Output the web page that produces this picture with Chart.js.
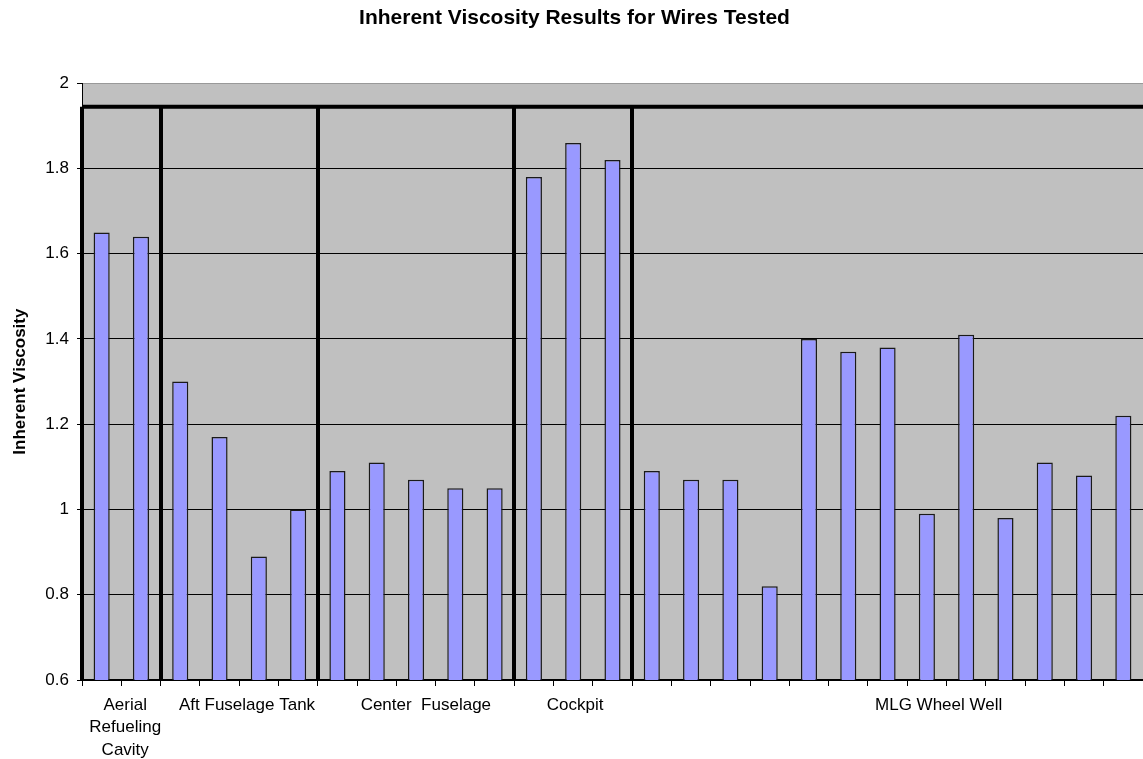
<!DOCTYPE html>
<html>
<head>
<meta charset="utf-8">
<title>Inherent Viscosity Results for Wires Tested</title>
<script src="https://cdn.jsdelivr.net/npm/chart.js@4/dist/chart.umd.min.js"></script>
<style>
  html, body { margin: 0; padding: 0; background: #fff; }
  #wrap { width: 1143px; height: 759px; position: relative; }
</style>
</head>
<body>
<div id="wrap"><canvas id="chart"></canvas></div>
<script>
// ---- Données ----
const groupes = ['Aerial\nRefueling\nCavity', 'Aft Fuselage Tank', 'Center  Fuselage', 'Cockpit', 'MLG Wheel Well']
const aerial = [1.65, 1.64]
const aftTank = [1.30, 1.17, 0.89, 1.00]
const centerFuselage = [1.09, 1.11, 1.07, 1.05, 1.05]
const cockpit = [1.78, 1.86, 1.82]
const mlgWheelWell = [1.09, 1.07, 1.07, 0.82, 1.40, 1.37, 1.38, 0.99, 1.41, 0.98, 1.11, 1.08, 1.22]
const yTicks = [0.6, 0.8, 1, 1.2, 1.4, 1.6, 1.8, 2]
const seuil = 1.945 // trait horizontal épais

const series = [aerial, aftTank, centerFuselage, cockpit, mlgWheelWell]
const labels = []
const valeurs = []
series.forEach((s, g) => {
  s.forEach((v, i) => {
    labels.push(groupes[g].replace(/\n/g, ' ') + ' ' + (i + 1))
    valeurs.push(v)
  })
})

// position des libellés de groupe (en unités de catégorie)
const posLibelles = [0.6, 3.7, 8.25, 12.05, 21.3]

// ---- Fond gris + séparateurs + libellés ----
const decor = {
  id: 'decor',
  beforeDraw(chart) {
    const { ctx, chartArea: a } = chart
    ctx.save()
    ctx.fillStyle = '#C0C0C0'
    ctx.fillRect(a.left, a.top, a.right - a.left, a.bottom - a.top)
    ctx.restore()
  },
  afterDraw(chart) {
    const { ctx, chartArea: a } = chart
    const x = chart.scales.x
    const y = chart.scales.y
    const yS = y.getPixelForValue(seuil)

    ctx.save()
    ctx.strokeStyle = '#000'
    ctx.lineWidth = 4
    ctx.beginPath()
    ctx.moveTo(a.left, yS)
    ctx.lineTo(a.right, yS)
    let debut = 0
    series.forEach(s => {
      const px = Math.round(x.getPixelForValue(debut - 0.5))
      ctx.moveTo(px, yS)
      ctx.lineTo(px, a.bottom)
      debut += s.length
    })
    ctx.stroke()

    ctx.fillStyle = '#000'
    ctx.font = '17px "Liberation Sans", Arial, sans-serif'
    ctx.textAlign = 'center'
    ctx.textBaseline = 'middle'
    groupes.forEach((g, i) => {
      const px = x.getPixelForValue(posLibelles[i])
      g.split('\n').forEach((ligne, k) => {
        ctx.fillText(ligne, px, a.bottom + 25 + k * 22.5)
      })
    })
    ctx.restore()
  }
}

new Chart(document.getElementById('chart'), {
  type: 'bar',
  data: {
    labels: labels,
    datasets: [{
      label: 'Inherent Viscosity',
      data: valeurs,
      backgroundColor: '#9999FF',
      borderColor: '#1a1a1a',
      borderWidth: 1.5,
      borderSkipped: false,
      barPercentage: 0.41,
      categoryPercentage: 1
    }]
  },
  options: {
    responsive: true,
    maintainAspectRatio: false,
    animation: false,
    layout: { padding: { left: 6, right: 0, top: 0, bottom: 0 } },
    plugins: {
      legend: { display: false },
      tooltip: { enabled: false },
      title: {
        display: true,
        text: 'Inherent Viscosity Results for Wires Tested',
        color: '#000',
        font: { family: '"Liberation Sans", Arial, sans-serif', size: 21, weight: 'bold' },
        padding: { top: 6, bottom: 52 }
      }
    },
    scales: {
      x: {
        offset: true,
        grid: {
          offset: true,
          drawOnChartArea: false,
          drawTicks: true,
          tickLength: 6,
          tickColor: '#000',
          tickWidth: 1
        },
        border: { display: true, color: '#000', width: 2 },
        ticks: { callback: () => '', maxRotation: 0, autoSkip: false },
        afterFit(scale) { scale.height = 79 }
      },
      y: {
        min: 0.6,
        max: 2,
        afterBuildTicks(scale) { scale.ticks = yTicks.map(v => ({ value: v })) },
        grid: {
          color: ctx => (ctx.tick && ctx.tick.value === 2) ? '#999' : '#000',
          lineWidth: 1,
          tickLength: 5,
          tickColor: '#000'
        },
        border: { display: true, color: '#000', width: 1 },
        ticks: {
          color: '#000',
          padding: 8,
          font: { family: '"Liberation Sans", Arial, sans-serif', size: 17 },
          callback: v => String(Math.round(v * 10) / 10)
        },
        title: {
          display: true,
          text: 'Inherent Viscosity',
          color: '#000',
          font: { family: '"Liberation Sans", Arial, sans-serif', size: 17, weight: 'bold' },
          padding: 4
        },
        afterFit(scale) { scale.width = 76 }
      }
    }
  },
  plugins: [decor]
})
</script>
</body>
</html>
